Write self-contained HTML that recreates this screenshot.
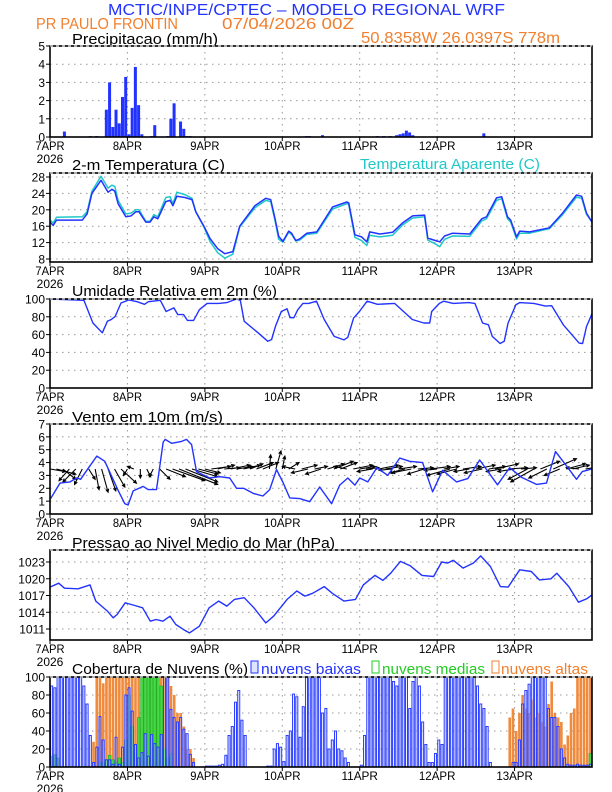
<!DOCTYPE html>
<html><head><meta charset="utf-8"><style>
html,body{margin:0;padding:0;background:#fff;}
svg{display:block;font-family:"Liberation Sans",sans-serif;}
</style></head><body>
<svg id="chart" width="612" height="792" viewBox="0 0 612 792" xmlns="http://www.w3.org/2000/svg">
<defs><clipPath id="windclip"><rect x="50" y="424" width="542" height="90"/></clipPath></defs>
<text x="108" y="15" font-size="16" fill="#2233ff" textLength="397" lengthAdjust="spacingAndGlyphs">MCTIC/INPE/CPTEC – MODELO REGIONAL WRF</text>
<text x="36" y="29" font-size="16" fill="#f08030" textLength="142" lengthAdjust="spacingAndGlyphs">PR PAULO FRONTIN</text>
<text x="222" y="29" font-size="16" fill="#f08030" textLength="132" lengthAdjust="spacingAndGlyphs">07/04/2026 00Z</text>
<text x="361" y="43" font-size="16" fill="#f08030" textLength="199" lengthAdjust="spacingAndGlyphs">50.8358W 26.0397S 778m</text>
<text x="72" y="44" font-size="15" fill="#000" textLength="146" lengthAdjust="spacingAndGlyphs">Precipitacao (mm/h)</text>
<text x="72" y="170" font-size="15" fill="#000" textLength="153" lengthAdjust="spacingAndGlyphs">2-m Temperatura (C)</text>
<text x="360" y="169" font-size="15" fill="#20c8c8" textLength="180" lengthAdjust="spacingAndGlyphs">Temperatura Aparente (C)</text>
<text x="72" y="296" font-size="15" fill="#000" textLength="205" lengthAdjust="spacingAndGlyphs">Umidade Relativa em 2m (%)</text>
<text x="72" y="422" font-size="15" fill="#000" textLength="151" lengthAdjust="spacingAndGlyphs">Vento em 10m (m/s)</text>
<text x="72" y="548" font-size="15" fill="#000" textLength="263" lengthAdjust="spacingAndGlyphs">Pressao ao Nivel Medio do Mar (hPa)</text>
<text x="72" y="674" font-size="15" fill="#000" textLength="176" lengthAdjust="spacingAndGlyphs">Cobertura de Nuvens (%)</text>
<rect x="251" y="661" width="7" height="12" fill="#dde4ff" stroke="#2233ff" stroke-width="1"/>
<text x="261" y="674" font-size="15" fill="#2233ff" textLength="100" lengthAdjust="spacingAndGlyphs">nuvens baixas</text>
<rect x="372" y="661" width="7" height="12" fill="#fff" stroke="#22cc22" stroke-width="1"/>
<text x="382" y="674" font-size="15" fill="#22cc22" textLength="103" lengthAdjust="spacingAndGlyphs">nuvens medias</text>
<rect x="492" y="661" width="7" height="12" fill="#fff" stroke="#f08030" stroke-width="1"/>
<text x="501" y="674" font-size="15" fill="#f08030" textLength="87" lengthAdjust="spacingAndGlyphs">nuvens altas</text>
</svg>
<script>
// ---- data ----
const dayLabels = ["7APR","8APR","9APR","10APR","11APR","12APR","13APR"];
const precipHours = [4,8,9,10,12,14,17,18,19,20,21,22,23,24,25,26,27,28,31,32,36,37,38,40,41,42,43,79,80,84,101,103,105,107,108,109,110,111,112,134,157];
const precipVals  = [0.3,0.02,0.02,0.02,0.05,0.05,1.5,3.0,0.55,1.5,0.75,2.2,3.3,0.15,1.6,3.85,1.75,0.15,0.05,0.65,0.05,1.0,1.85,0.85,0.45,0.05,0.05,0.05,0.05,0.1,0.05,0.05,0.05,0.1,0.15,0.2,0.35,0.25,0.1,0.2,0.03];
const precipTicks = [0,1,2,3,4,5];

const tempHours = [0,1,2,10,11.5,13,15.8,18,19.2,20.1,21.1,23.5,25.1,26.6,27.6,29.7,31,32.2,33.4,35.9,37.2,38.1,39.3,41.8,44,45.2,47.7,49.6,52,54.2,56.7,58.8,63.5,66.9,68.4,69.7,70.9,72.2,74,74.9,76.2,77.4,79.6,82.7,87.6,92,92.6,94.5,96.6,98.2,99.1,102.2,106.2,109.3,112.4,116.1,117.1,119.9,120.8,122.3,124.8,130.1,133.8,135.3,138.4,140,141.8,142.8,144.6,145.6,148.7,154.8,158.9,163.2,164.8,166.3,168];
const tempVals = [17,16.2,17.5,17.5,19,24,27.2,24.3,25,24.5,21.5,18.3,18.5,19.5,19.5,17,17,18.3,17.8,22,22.3,21,23.3,23,22.5,19.5,16,13,10.5,9.3,9.8,16,21,22.8,22.5,18,13.5,12.3,14.8,14.3,12.5,12.9,14.3,14.6,20.7,21.9,21.7,13.9,13.4,12.2,14.6,14.1,14.5,16.8,18.5,18.7,13.1,12.4,12.2,13.6,14.3,14.1,17.8,18.3,22.9,23.2,18.3,17.5,13.4,14.8,14.6,15.6,19.2,23.6,23.3,19.2,17];
const apparentVals = [17.5,16.8,18.2,18.3,19.5,24.5,28.2,25.3,26,25.7,22.3,19,19.2,20,20,17.2,17.2,18.8,18.3,23,23.2,21.5,24.3,23.7,22.8,19.5,15.8,12.3,9.5,8.2,9.2,15.8,20.5,22.3,22,17.5,12.8,12.1,14.5,14,12.4,12.6,14,14.3,20.2,21.5,21.3,13.3,12.5,11.3,13.8,13.4,13.8,16.3,18,18.3,12.6,11.5,11,12.8,13.6,13.5,17.3,17.8,22.3,22.7,17.8,17,12.9,14.3,14.3,15.4,18.8,23.1,22.8,18.9,17];
const tempTicks = [8,12,16,20,24,28];

const humHours = [0,10.5,13.3,16.2,17.8,19,20.2,22,24.5,27,29.3,30.5,34.2,36,38.4,39.6,41.4,42.6,44.5,46.3,48.7,52.3,54.8,57.8,59,60.2,64.5,67.5,68.7,69.9,71.7,73.5,74.4,75.6,76.8,78.4,80.2,82.6,85,88.1,91.1,92.3,94.1,95.9,98.3,101.5,106.8,112.3,115.9,117.7,118.3,120.7,122,125,129.8,131.7,134.1,135.9,137.1,139.5,140.8,142,144.4,145.6,150,153.6,155.5,159.1,164,165.1,166.3,168];
const humVals = [100,98.5,73,62,75,77,80.5,95.5,99,97,94,97,98.5,86,90,82.5,82.5,76,76,88,95,95,96,100,98.5,75,62,52.5,54.5,69.3,86,89,79,79,88,95,95,97.5,77,58,54,57,78.5,86,97.5,94,95,77,73,73,86,95,97.5,95,96,95,73,71,58,50,52.5,73,93.6,96,95,92,92.5,71,50.5,50,69,83.5];
const humTicks = [0,20,40,60,80,100];

const windHours = [0.2,3.1,6.2,8.3,9.5,11.4,14.5,17,21.2,23.2,24.2,25.8,28.9,30.4,33,35.1,35.7,37.7,40.8,42.3,43.9,45.4,49.5,52.6,55.7,57.8,60,63,66,68.1,70.2,72.3,74.3,77.4,80.5,83.6,87.3,89.8,92.3,94.5,96,98.5,101.3,104.7,108.4,111.5,115.5,118.6,121.7,126,129.5,133.2,138.7,142.5,146.2,150.8,153.9,156.7,160.1,163.2,165,168];
const windSpeed = [1.2,2.4,2.5,2.8,2.7,3.4,4.5,4.1,1.8,0.8,0.7,1.8,2.15,1.9,1.9,5.6,5.8,5.5,5.65,5.8,5.4,3.3,2.8,2.9,2.8,2.0,2.0,1.6,1.4,1.9,3.45,2.4,1.25,1.2,0.96,2.1,0.8,2.25,2.8,2.25,2.8,2.5,3.6,3.0,4.35,4.1,4.0,1.73,3.4,2.5,2.75,4.2,2.27,3.6,2.85,2.3,2.4,4.85,3.75,2.7,3.3,3.5];
const windU = [1.2,1.5,1.0,-0.8,-1,-0.6,0.5, 0.3,0.5,0.6,0.8,1.2, -0.3,-0.5,0,0.3,-0.3,0.8, 1.5,2.5,3,2.5,2.0,1.5, 1.2,1.5,1.3,1.2,1.5,1.2,1.3,1.0,1.3,1.2, 0.1,0.4,0.2,0.8,
 -1,1.2,-1.3,1,-1.2,1.3, 1.5,1.3,-1,1.5,1.2,1.0, -1.2,1.5,1.3,-1,1.4,-1.2, -1.5,1.2,-1.3,1.5,-1,1.2, -1.8,-1.5,1.4,-1.2,1.5,-1.4, 1.3,1.8,-1.2,1.5,-1.3,1.2, -1.5,-1.8,1.5,-1.4,1.8,-1.2, 1.5,1.3,-1,1.2,1.0];
const windV = [-0.2,-0.4,-0.8,-0.9,-1,-1.2,-0.8, -1.6,-1.8,-1.7,-1.4,-1.1, -0.5,0.2,-0.7,-0.6,-0.6,-0.8, -0.6,-0.9,-1.2,-1.0,-0.6,-0.4, -0.3,0.2,0.3,0.1,0.3,0.2,0.3,0.4,0.5,0.5, 1.1,1.4,1.0,0.5,
 0.2,0.3,-0.3,0.2,-0.4,0.4, 0.6,0.5,0.2,0.3,0.2,0.1, -0.2,0.3,0.2,-0.1,0.2,-0.3, -0.3,0.1,-0.4,0.2,-0.1,0.2, -0.5,-0.4,0.2,-0.2,0.3,-0.3, 0.2,0.4,-0.2,0.1,-0.2,0.1, -0.8,-1.0,0.6,-0.7,0.8,-0.5, 0.4,0.3,0.1,0.2,0.1];
const windTicks = [0,1,2,3,4,5,6,7];

const pressHours = [0,2.7,4.5,8.7,12.4,14.2,17.8,19.6,20.8,23.3,26.3,28.7,31.1,32.9,35,37.2,39,41.4,43.2,46.3,49.3,52.3,54.8,57.2,60.2,63.2,66.9,69.3,73.5,76.5,79,81.4,85,87.5,91.1,94.7,97.1,100.7,103.2,105.6,108.6,111.7,115.3,118.9,121.4,123.2,125,128,131.2,133.5,136.5,139.6,142,145.6,149.2,151.7,155.3,157.1,160.8,163.8,166.3,168];
const pressVals = [1018.5,1019.2,1018.3,1018.2,1018.9,1016,1014.2,1013,1013.6,1015.7,1015.2,1014.8,1012.4,1012.7,1012.4,1013.3,1011.8,1010.9,1010.3,1011.5,1014.8,1016,1015.1,1016.3,1016.6,1014.8,1012.1,1013.3,1016.3,1017.8,1016.9,1017.4,1018.6,1017.4,1016,1016.3,1018.9,1020.6,1019.7,1021,1023.1,1022.3,1020.6,1020.4,1023,1022.8,1023.3,1021.9,1022.8,1024.1,1022.2,1018.6,1018.5,1021.6,1021.3,1019.8,1020,1021,1018.6,1015.8,1016.4,1017.1];
const pressTicks = [1011,1014,1017,1020,1023];

const lowClouds = [90,88,100,100,100,100,100,100,100,100, 90,70,35,5,22,56,30,8,8,3, 33,3,22,80,88,62,25,10,16,37, 12,36,26,22,36,100,100,64,55,50, 55,42,37,14,5,0,0,0,1,1, 1,1,2,3,13,35,45,72,85,52, 35,0,0,0,0,0,0,1,1,20, 26,22,6,35,40,81,78,33,67,100, 100,100,100,100,60,65,20,30,40,20, 18,10,5,0,0,0,2,35,100,100, 100,100,100,100,100,100,95,90,100,100, 100,65,95,100,90,50,25,5,5,15, 30,25,100,100,100,100,100,100,100,100, 100,100,90,70,65,45,5,0,0,0, 0,0,0,5,5,30,70,85,92,100, 100,100,100,100,65,55,55,45,20,10, 3,2,2,3,2,2,2,3];
const midClouds = [12,14,10,0,0,0,0,0,0,0, 0,0,0,0,0,5,5,8,13,8, 5,10,5,30,80,45,15,55,100,100, 100,100,100,100,90,20,10,15,0,0, 0,0,0,0,0,0,0,0,0,0, 0,0,0,0,0,0,0,0,0,0, 0,0,0,0,0,0,0,0,0,0, 0,0,0,0,0,0,0,0,0,0, 0,0,0,0,0,0,0,0,0,0, 0,0,0,0,0,0,0,0,0,0, 0,0,0,0,0,0,0,0,0,0, 0,0,0,0,0,0,0,0,0,0, 0,0,0,0,0,0,0,0,0,0, 0,0,0,0,0,0,0,0,0,0, 0,0,0,0,0,0,0,0,0,0, 0,0,0,0,0,0,0,0,0,0, 0,0,0,0,0,0,0,15];
const highClouds = [0,0,0,0,0,0,0,0,0,0, 0,0,0,28,100,100,93,100,100,100, 100,100,100,100,100,100,100,100,100,100, 100,100,100,100,100,100,100,90,80,60, 60,45,20,20,10,0,0,0,0,0, 0,0,0,0,0,0,0,0,0,0, 0,0,0,0,0,0,0,0,0,0, 0,0,0,0,0,0,0,0,0,0, 0,0,0,0,0,0,0,0,0,0, 0,0,0,0,0,0,0,0,0,0, 0,0,0,0,0,0,0,0,0,0, 0,0,0,0,0,0,0,0,0,0, 0,0,0,0,0,0,0,0,0,0, 0,0,0,0,0,0,0,0,0,0, 0,0,55,65,40,60,80,65,60,75, 55,60,50,45,70,95,60,55,50,25, 35,60,65,100,100,100,100,100];
const cloudTicks = [0,20,40,60,80,100];

// ---- drawing ----
const NS = "http://www.w3.org/2000/svg";
const svg = document.getElementById("chart");
const X0 = 50, X1 = 592, HOURS = 168;
function xh(h){ return X0 + h*(X1-X0)/HOURS; }
function mk(tag, attrs, parent){
  const e = document.createElementNS(NS, tag);
  for (const k in attrs) e.setAttribute(k, attrs[k]);
  (parent||svg).appendChild(e);
  return e;
}
function makeY(top, bottom, vTop, vBottom){ return v => bottom - (v - vBottom)*(bottom-top)/(vTop-vBottom); }

function frame(name, top, bottom, ticks, y, showYear){
  const g = mk("g", {});
  
  
  ticks.forEach(t => {
    const yy = y(t);
    const gl = mk("line", {x1:X0, x2:X1, y1:yy, y2:yy, stroke:"#999", "stroke-width":1, "stroke-dasharray":"1.5,4.5"}, g);
    
    
    const tk = mk("line", {x1:X0-4, x2:X0, y1:yy, y2:yy, stroke:"#000", "stroke-width":1}, g);
    
    
    const lb = mk("text", {x:X0-5, y:yy+4.5, "font-size":12, "text-anchor":"end", fill:"#000"}, g);
    lb.textContent = t;
    
    
  });
  dayLabels.forEach((d, i) => {
    const xx = xh(i*24);
    if (i > 0) {
      const vl = mk("line", {x1:xx, x2:xx, y1:top, y2:bottom, stroke:"#999", "stroke-width":1, "stroke-dasharray":"1.5,4.5"}, g);
      
      
    }
    const tk = mk("line", {x1:xx, x2:xx, y1:bottom, y2:bottom+4, stroke:"#000", "stroke-width":1}, g);
    
    
    const lb = mk("text", {x:xx, y:bottom+13, "font-size":12, "text-anchor":"middle", fill:"#000", textLength: d.length*7.3, lengthAdjust:"spacingAndGlyphs"}, g);
    lb.textContent = d;
    
    
  });
  if (showYear) {
    const yr = mk("text", {x:X0, y:bottom+26, "font-size":12, "text-anchor":"middle", fill:"#000"}, g);
    yr.textContent = "2026";
    
    
  }
  return g;
}
function border(name, top, bottom){
  const b = mk("rect", {x:X0, y:top, width:X1-X0, height:bottom-top, fill:"none", stroke:"#000", "stroke-width":1.6});
  
  
  const d = mk("line", {x1:X0, x2:X1, y1:top, y2:top, stroke:"#fff", "stroke-width":1, "stroke-dasharray":"3,3"});
  
  
}
function line(hours, vals, y, color, name, w){
  const pts = hours.map((h,i) => xh(h).toFixed(1)+","+y(vals[i]).toFixed(1)).join(" ");
  const p = mk("polyline", {points:pts, fill:"none", stroke:color, "stroke-width":w||1.5, "stroke-linejoin":"round"});
  
  
}

// Precip
const yP = makeY(46, 137, 5, 0);
frame("precip", 46, 137, precipTicks, yP, true);
precipHours.forEach((h, i) => {
  const v = precipVals[i];
  const r = mk("rect", {x:xh(h), y:yP(v), width:3.0, height:Math.max(0.8, yP(0)-yP(v)), fill:"#2233ff"});
  
  
});
border("precip", 46, 137);

// Temperature
const yT = makeY(177, 259, 28, 8);
frame("temp", 173, 262, tempTicks, yT, true);
line(tempHours, apparentVals, yT, "#20c8c8", "apparent-temp-line", 1.5);
line(tempHours, tempVals, yT, "#2233ff", "temp-line", 1.5);
border("temp", 173, 262);

// Humidity
const yH = makeY(299, 388, 100, 0);
frame("humidity", 299, 388, humTicks, yH, true);
line(humHours, humVals, yH, "#2233ff", "humidity-line", 1.4);
border("humidity", 299, 388);

// Wind
const yW = makeY(424, 514, 7, 0);
frame("wind", 424, 514, windTicks, yW, true);
const pxPerUnit = (514-424)/7;
const windGroup = mk("g", {"clip-path":"url(#windclip)"});


windU.forEach((u, i) => {
  const h = i*2;
  const x1 = xh(h), y1 = yW(3.5);
  const x2 = x1 + u*pxPerUnit, y2 = yW(3.5 + windV[i]);
  const ang = Math.atan2(y2-y1, x2-x1);
  const hl = 3.5;
  const a = mk("path", {d:`M${x1},${y1}L${x2},${y2}M${x2-hl*Math.cos(ang-0.45)},${y2-hl*Math.sin(ang-0.45)}L${x2},${y2}L${x2-hl*Math.cos(ang+0.45)},${y2-hl*Math.sin(ang+0.45)}`, stroke:"#000", "stroke-width":1.1, fill:"none"}, windGroup);
  
  
});
line(windHours, windSpeed, yW, "#2233ff", "wind-speed-line", 1.4);
border("wind", 424, 514);

// Pressure
const yPr = makeY(562, 629, 1023, 1011);
frame("pressure", 550, 640, pressTicks, yPr, true);
line(pressHours, pressVals, yPr, "#2233ff", "pressure-line", 1.4);
border("pressure", 550, 640);

// Clouds
const yC = makeY(677, 767, 100, 0);
frame("cloud", 677, 767, cloudTicks, yC, true);
const bw = (X1-X0)/HOURS;
highClouds.forEach((v, h) => {
  if (v <= 0) return;
  const r = mk("rect", {x:xh(h)+0.3, y:yC(v), width:bw-0.6, height:yC(0)-yC(v), fill:"#f08a3c"});
  
  
});
midClouds.forEach((v, h) => {
  if (v <= 0) return;
  const r = mk("rect", {x:xh(h)+0.3, y:yC(v), width:bw-0.6, height:yC(0)-yC(v), fill:"#44d844", stroke:"#22aa22", "stroke-width":0.6});
  
  
});
lowClouds.forEach((v, h) => {
  if (v <= 0) return;
  const r = mk("rect", {x:xh(h)+0.6, y:yC(v), width:bw-1.2, height:yC(0)-yC(v), fill:"rgba(225,232,255,0.4)", stroke:"#2a3cff", "stroke-width":1});
  
  
});
border("cloud", 677, 767);
</script>
</body></html>
